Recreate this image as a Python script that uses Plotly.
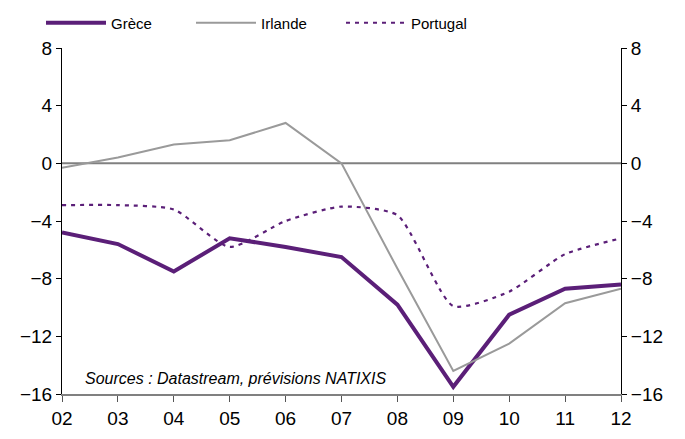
import plotly.graph_objects as go

years = ["02", "03", "04", "05", "06", "07", "08", "09", "10", "11", "12"]
grece = [-4.8, -5.6, -7.5, -5.2, -5.8, -6.5, -9.8, -15.5, -10.5, -8.7, -8.4]
irlande = [-0.3, 0.4, 1.3, 1.6, 2.8, 0.0, -7.3, -14.4, -12.5, -9.7, -8.7]
portugal = [-2.9, -2.9, -3.2, -5.8, -4.0, -3.0, -3.6, -9.9, -8.9, -6.3, -5.2]
yticks = [8, 4, 0, -4, -8, -12, -16]

purple = "#5B1F78"
font = "Liberation Sans, Arial, sans-serif"

fig = go.Figure()
fig.add_trace(go.Scatter(x=years, y=grece, name="Grèce", mode="lines",
                         line=dict(color=purple, width=4)))
fig.add_trace(go.Scatter(x=years, y=irlande, name="Irlande", mode="lines",
                         line=dict(color="#9A9A9A", width=2)))
fig.add_trace(go.Scatter(x=years, y=portugal, name="Portugal", mode="lines",
                         line=dict(color=purple, width=2.2, dash="4px,5px", shape="spline", smoothing=0.6)))

yax = dict(range=[-16, 8], tickvals=yticks, ticks="outside", ticklen=5,
           tickcolor="#000", showline=True, linecolor="#000", linewidth=1,
           showgrid=False, zeroline=False,
           tickfont=dict(family=font, size=19, color="#000"))

fig.update_layout(
    width=685, height=439,
    margin=dict(l=54, r=72, t=40, b=53, autoexpand=False),
    paper_bgcolor="white", plot_bgcolor="white",
    font=dict(family=font, color="#000"),
    xaxis=dict(type="category", range=[0, 10], ticks="outside", ticklen=6,
               tickcolor="#555", showline=True, linecolor="#808080", linewidth=1.5,
               showgrid=False, zeroline=False,
               tickfont=dict(family=font, size=19, color="#000")),
    yaxis=yax,
    yaxis2=dict(yax, overlaying="y", side="right", matches="y"),
    showlegend=True,
    legend=dict(orientation="h", xref="container", yref="container",
                x=33 / 685, xanchor="left", y=1 - 15 / 439, yanchor="middle",
                font=dict(family=font, size=15, color="#000"),
                itemwidth=60, entrywidth=75, entrywidthmode="pixels",
                bgcolor="rgba(0,0,0,0)"),
    shapes=[dict(type="line", xref="paper", x0=0, x1=1, yref="y", y0=0, y1=0,
                 line=dict(color="#808080", width=2), layer="below")],
    annotations=[dict(text="Sources : Datastream, prévisions NATIXIS", xref="paper", yref="y",
                      x=0.037, y=-14.9, xanchor="left", yanchor="middle", showarrow=False,
                      font=dict(family=font, size=16, color="#000", style="italic"))],
)
# invisible trace to ensure right axis is drawn
fig.add_trace(go.Scatter(x=years, y=grece, yaxis="y2", showlegend=False, hoverinfo="skip",
                         line=dict(width=0), opacity=0))
fig.write_html("out.html")
